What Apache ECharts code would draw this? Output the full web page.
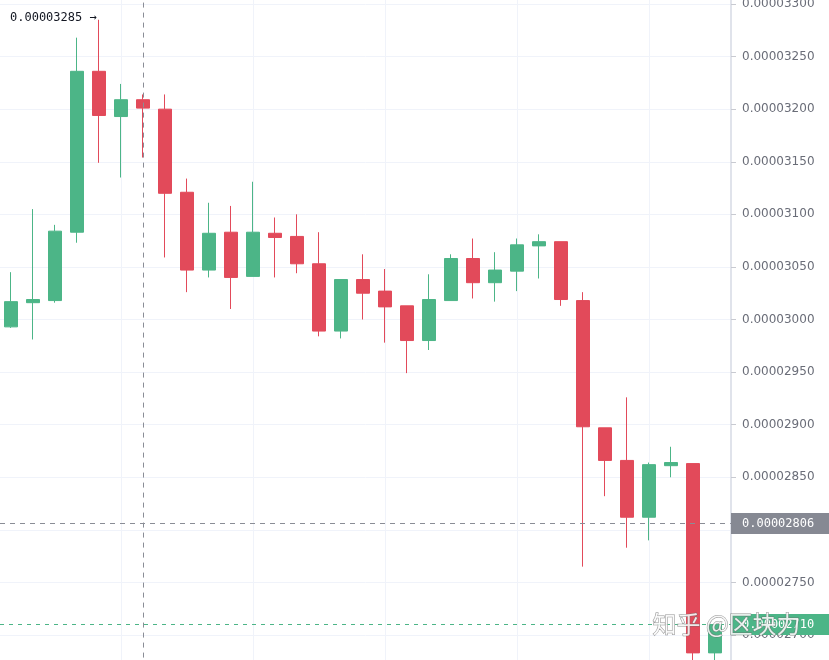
<!DOCTYPE html>
<html>
<head>
<meta charset="utf-8">
<script src="https://cdn.jsdelivr.net/npm/echarts@6/dist/echarts.min.js"></script>
<style>
html,body{margin:0;padding:0;background:#fff;}
#chart{width:829px;height:660px;}
</style>
</head>
<body>
<div id="chart"></div>
<script>
// ---- data ----
const categories = ['1','2','3','4','5','6','7','8','9','10','11','12','13','14','15','16','17','18','19','20','21','22','23','24','25','26','27','28','29','30','31','32','33'];
const opens  = [0.00002993,0.00003016,0.00003018,0.00003083,0.00003236,0.00003193,0.00003209,0.00003200,0.00003121,0.00003047,0.00003083,0.00003041,0.00003082,0.00003079,0.00003053,0.00002989,0.00003038,0.00003027,0.00003013,0.00002980,0.00003018,0.00003058,0.00003035,0.00003046,0.00003070,0.00003074,0.00003018,0.00002897,0.00002866,0.00002812,0.00002861,0.00002863,0.00002683];
const closes = [0.00003017,0.00003019,0.00003084,0.00003236,0.00003194,0.00003209,0.00003201,0.00003120,0.00003047,0.00003082,0.00003040,0.00003083,0.00003078,0.00003053,0.00002989,0.00003038,0.00003025,0.00003012,0.00002980,0.00003019,0.00003058,0.00003035,0.00003047,0.00003071,0.00003074,0.00003019,0.00002898,0.00002866,0.00002812,0.00002862,0.00002864,0.00002683,0.00002710];
const lows   = [0.00002992,0.00002981,0.00003016,0.00003073,0.00003149,0.00003135,0.00003154,0.00003059,0.00003026,0.00003040,0.00003010,0.00003041,0.00003040,0.00003044,0.00002984,0.00002982,0.00003000,0.00002978,0.00002949,0.00002971,0.00003018,0.00003020,0.00003017,0.00003027,0.00003039,0.00003013,0.00002765,0.00002832,0.00002783,0.00002790,0.00002850,0.00002660,0.00002660];
const highs  = [0.00003045,0.00003105,0.00003090,0.00003268,0.00003285,0.00003224,0.00003214,0.00003214,0.00003134,0.00003111,0.00003108,0.00003131,0.00003097,0.00003100,0.00003083,0.00003038,0.00003062,0.00003048,0.00003013,0.00003043,0.00003062,0.00003077,0.00003064,0.00003077,0.00003081,0.00003074,0.00003026,0.00002897,0.00002926,0.00002864,0.00002879,0.00002863,0.00002710];
const yTickMin = 0.0000265, yTickMax = 0.0000335, yTickStep = 0.0000005;
const highLabel = '0.00003285 \u2192';
const crossValue = 0.00002806;
const crossCategory = '7';
const lastPrice = 0.00002710;

const UP = '#4cb587', DOWN = '#e24a5a';
const candleData = categories.map((c, i) => [opens[i], closes[i], lows[i], highs[i]]);

const gridTop = -48.58, gridHeight = 736.17;

function hLine(value, color, dash, bg) {
  return [
    {
      coord: [0, value],
      lineStyle: {color: color, type: dash, width: 1},
      label: {
        show: true, position: 'end', distance: 0, formatter: value.toFixed(8),
        color: '#ffffff', backgroundColor: bg, fontFamily: 'DejaVu Sans Mono', fontSize: 12,
        padding: [5, 17, 4, 11]
      }
    },
    {coord: [1, value]}
  ];
}

const chart = echarts.init(document.getElementById('chart'), null, {renderer: 'canvas'});
chart.setOption({
  animation: false,
  backgroundColor: '#ffffff',
  grid: [
    {left: 11, top: gridTop, width: 704, height: gridHeight, outerBoundsMode: 'none', containLabel: false},
    {left: 0, top: gridTop, width: 731, height: gridHeight, outerBoundsMode: 'none', containLabel: false}
  ],
  xAxis: [
    {
      type: 'category', gridIndex: 0, data: categories, boundaryGap: false,
      axisLine: {show: false}, axisTick: {show: false}, axisLabel: {show: false},
      splitLine: {show: true, interval: (idx) => idx % 6 === 5, lineStyle: {color: '#f0f3fa', width: 1}}
    },
    {type: 'value', gridIndex: 1, min: 0, max: 1, show: false, axisLine: {onZero: false}}
  ],
  yAxis: [
    {type: 'value', gridIndex: 0, min: yTickMin, max: yTickMax, interval: yTickStep, show: false, splitLine: {show: false}, axisLine: {onZero: false}},
    {
      type: 'value', gridIndex: 1, position: 'right', min: yTickMin, max: yTickMax, interval: yTickStep,
      axisLine: {show: true, onZero: false, lineStyle: {color: '#e0e3eb', width: 2}},
      axisTick: {show: true, length: 5, lineStyle: {color: '#c8cad1'}},
      axisLabel: {
        margin: 11, color: '#6a6d78', fontSize: 12, fontFamily: 'DejaVu Sans',
        formatter: (v) => v.toFixed(8)
      },
      splitLine: {show: true, lineStyle: {color: '#f0f3fa', width: 1}}
    }
  ],
  series: [
    {
      type: 'candlestick', xAxisIndex: 0, yAxisIndex: 0, data: candleData,
      barWidth: 13, clip: false, z: 3,
      itemStyle: {color: UP, color0: DOWN, borderColor: UP, borderColor0: DOWN, borderWidth: 1},
      markLine: {
        silent: true, symbol: ['none', 'none'], animation: false,
        label: {show: false},
        lineStyle: {color: '#8a8d96', type: [5, 5], width: 1},
        data: [{xAxis: crossCategory}]
      }
    },
    {
      type: 'line', xAxisIndex: 1, yAxisIndex: 1, data: [[0, crossValue], [1, crossValue]],
      showSymbol: false, silent: true, clip: false, lineStyle: {width: 0, color: 'rgba(0,0,0,0)'}, z: 4,
      markLine: {
        silent: true, symbol: ['none', 'none'], animation: false,
        data: [
          hLine(crossValue, '#8a8d96', [5, 5], '#868993'),
          hLine(lastPrice, UP, [4, 5], UP)
        ]
      }
    }
  ],
  graphic: [
    {
      type: 'text', left: 10, top: 12, z: 10,
      style: {text: highLabel, fill: '#131722', font: '12px "DejaVu Sans Mono"'}
    },
    {
      type: 'text', left: 652, top: 611, z: 20,
      style: {
        text: '知乎 @区块力', fill: 'rgba(255,255,255,0.85)', stroke: 'rgba(110,110,110,0.75)', lineWidth: 1,
        font: '24px "Noto Sans CJK SC"'
      }
    }
  ]
});
</script>
</body>
</html>
